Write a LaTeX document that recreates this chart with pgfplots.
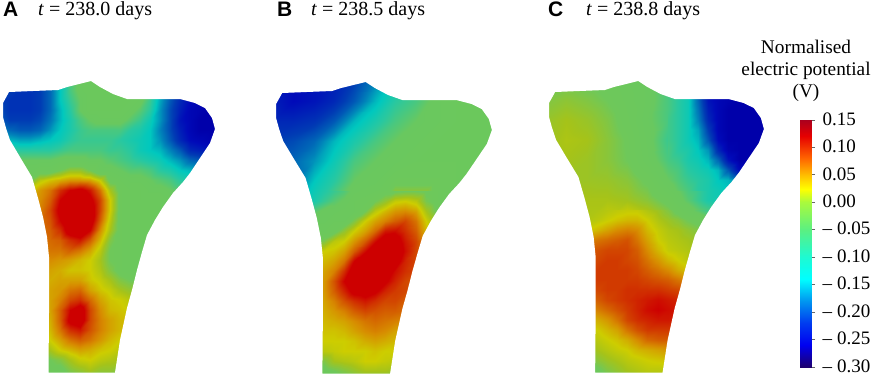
\documentclass[border=0pt]{standalone}
\usepackage{pgfplots}
\pgfplotsset{compat=1.18}
\usepackage{fontspec}
\setmainfont{Liberation Serif}
\newfontfamily\hv{Liberation Sans}
\pgfplotsset{
 colormap={field}{rgb255(0cm)=(0,0,170); rgb255(0.3cm)=(0,10,185); rgb255(0.8cm)=(0,60,180); rgb255(1.3cm)=(0,130,185); rgb255(1.7cm)=(0,200,190); rgb255(2cm)=(40,200,160); rgb255(2.4cm)=(105,200,95); rgb255(2.8cm)=(110,200,90); rgb255(3.1cm)=(165,195,25); rgb255(3.3cm)=(205,205,0); rgb255(3.6cm)=(215,140,0); rgb255(3.9cm)=(210,70,0); rgb255(4.2cm)=(205,0,0); rgb255(4.5cm)=(205,0,0)},
 colormap={bar}{rgb255(0cm)=(30,0,110); rgb255(0.4cm)=(0,0,240); rgb255(0.8cm)=(0,60,240); rgb255(1.2cm)=(0,150,240); rgb255(1.6cm)=(0,255,255); rgb255(2cm)=(30,250,210); rgb255(2.5cm)=(90,240,130); rgb255(3cm)=(170,250,60); rgb255(3.25cm)=(255,255,0); rgb255(3.5cm)=(255,190,0); rgb255(3.8cm)=(255,100,0); rgb255(4.2cm)=(230,0,0); rgb255(4.5cm)=(170,0,30)},
 panel/.style={hide axis, scale only axis, y dir=reverse, xmin=0,xmax=220,ymin=80,ymax=373, height=293pt, clip=false,
   colormap name=field, point meta min=-0.30, point meta max=0.15, anchor=north west},
 field/.style={surf, shader=interp, mesh/ordering=x varies, point meta=explicit},
 mask/.style={draw=none, fill=white, even odd rule, forget plot},
}
\newcommand{\outline}{
 (-5,70)(225,70)(225,385)(-5,385)(-5,70)
 (91,81)(100,87)(113,94)(127,99)(147,99)(165,99)(180,99)(195,103)(205,108)(212,118)(215,129)(210,143)(200,158)(190,173)(183,182)(173,193)(163,207)(155,220)(147,235)(142,252)(137,270)(132,290)(127,308)(120,340)(115,372.5)(48.5,372.5)(49,313)(49,280)(49,257)(47,237)(43,217)(38,198)(32,177)(20,157)(10,140)(6,128)(3,117)(3,103)(9,92)(33,91)(58,90)(67,87)(79,84)(91,81)(-5,70)}
\begin{document}
\begin{tikzpicture}[x=1pt,y=1pt]
\path[use as bounding box] (0,0) rectangle (872,375);
% Panel A
\begin{axis}[panel, at={(0pt,295pt)}, width=220pt]
\addplot[field, mesh/cols=23] table[row sep=\\, meta=c]{x y c\\
0 80 -.2\\10 80 -.21\\20 80 -.22\\30 80 -.22\\40 80 -.21\\50 80 -.18\\60 80 -.13\\70 80 -.08\\80 80 -.05\\90 80 -.04\\100 80 -.04\\110 80 -.04\\120 80 -.04\\130 80 -.04\\140 80 -.05\\150 80 -.08\\160 80 -.13\\170 80 -.18\\180 80 -.22\\190 80 -.25\\200 80 -.27\\210 80 -.28\\220 80 -.28\\
0 90 -.21\\10 90 -.22\\20 90 -.23\\30 90 -.23\\40 90 -.22\\50 90 -.19\\60 90 -.13\\70 90 -.08\\80 90 -.05\\90 90 -.04\\100 90 -.04\\110 90 -.04\\120 90 -.04\\130 90 -.04\\140 90 -.05\\150 90 -.08\\160 90 -.14\\170 90 -.19\\180 90 -.23\\190 90 -.26\\200 90 -.28\\210 90 -.29\\220 90 -.29\\
0 100 -.22\\10 100 -.23\\20 100 -.23\\30 100 -.23\\40 100 -.22\\50 100 -.19\\60 100 -.13\\70 100 -.09\\80 100 -.06\\90 100 -.04\\100 100 -.04\\110 100 -.04\\120 100 -.04\\130 100 -.04\\140 100 -.05\\150 100 -.09\\160 100 -.15\\170 100 -.2\\180 100 -.24\\190 100 -.27\\200 100 -.28\\210 100 -.29\\220 100 -.29\\
0 110 -.21\\10 110 -.23\\20 110 -.23\\30 110 -.23\\40 110 -.22\\50 110 -.19\\60 110 -.14\\70 110 -.1\\80 110 -.06\\90 110 -.04\\100 110 -.04\\110 110 -.04\\120 110 -.04\\130 110 -.05\\140 110 -.07\\150 110 -.1\\160 110 -.16\\170 110 -.21\\180 110 -.25\\190 110 -.28\\200 110 -.29\\210 110 -.3\\220 110 -.3\\
0 120 -.2\\10 120 -.22\\20 120 -.22\\30 120 -.22\\40 120 -.21\\50 120 -.18\\60 120 -.14\\70 120 -.11\\80 120 -.08\\90 120 -.06\\100 120 -.05\\110 120 -.05\\120 120 -.05\\130 120 -.07\\140 120 -.09\\150 120 -.12\\160 120 -.16\\170 120 -.21\\180 120 -.26\\190 120 -.28\\200 120 -.3\\210 120 -.3\\220 120 -.3\\
0 130 -.17\\10 130 -.19\\20 130 -.2\\30 130 -.2\\40 130 -.19\\50 130 -.16\\60 130 -.13\\70 130 -.11\\80 130 -.09\\90 130 -.08\\100 130 -.08\\110 130 -.08\\120 130 -.08\\130 130 -.1\\140 130 -.11\\150 130 -.13\\160 130 -.17\\170 130 -.21\\180 130 -.25\\190 130 -.28\\200 130 -.3\\210 130 -.3\\220 130 -.3\\
0 140 -.12\\10 140 -.14\\20 140 -.15\\30 140 -.15\\40 140 -.14\\50 140 -.13\\60 140 -.12\\70 140 -.1\\80 140 -.09\\90 140 -.09\\100 140 -.09\\110 140 -.09\\120 140 -.1\\130 140 -.11\\140 140 -.12\\150 140 -.13\\160 140 -.16\\170 140 -.2\\180 140 -.24\\190 140 -.27\\200 140 -.28\\210 140 -.29\\220 140 -.29\\
0 150 -.09\\10 150 -.09\\20 150 -.1\\30 150 -.1\\40 150 -.1\\50 150 -.1\\60 150 -.09\\70 150 -.08\\80 150 -.08\\90 150 -.08\\100 150 -.08\\110 150 -.09\\120 150 -.09\\130 150 -.1\\140 150 -.12\\150 150 -.13\\160 150 -.14\\170 150 -.17\\180 150 -.2\\190 150 -.24\\200 150 -.25\\210 150 -.26\\220 150 -.26\\
0 160 -.06\\10 160 -.06\\20 160 -.06\\30 160 -.06\\40 160 -.06\\50 160 -.06\\60 160 -.05\\70 160 -.05\\80 160 -.05\\90 160 -.06\\100 160 -.06\\110 160 -.07\\120 160 -.08\\130 160 -.09\\140 160 -.1\\150 160 -.11\\160 160 -.12\\170 160 -.14\\180 160 -.16\\190 160 -.19\\200 160 -.2\\210 160 -.22\\220 160 -.22\\
0 170 -.05\\10 170 -.05\\20 170 -.05\\30 170 -.05\\40 170 -.04\\50 170 -.04\\60 170 -.02\\70 170 0\\80 170 0\\90 170 -.02\\100 170 -.05\\110 170 -.05\\120 170 -.06\\130 170 -.07\\140 170 -.07\\150 170 -.08\\160 170 -.1\\170 170 -.11\\180 170 -.13\\190 170 -.14\\200 170 -.15\\210 170 -.16\\220 170 -.16\\
0 180 -.05\\10 180 -.05\\20 180 -.04\\30 180 -.02\\40 180 .02\\50 180 .035\\60 180 .045\\70 180 .055\\80 180 .055\\90 180 .05\\100 180 .025\\110 180 -.03\\120 180 -.04\\130 180 -.05\\140 180 -.05\\150 180 -.06\\160 180 -.07\\170 180 -.08\\180 180 -.1\\190 180 -.11\\200 180 -.12\\210 180 -.13\\220 180 -.13\\
0 190 -.04\\10 190 -.04\\20 190 -.03\\30 190 .03\\40 190 .055\\50 190 .07\\60 190 .1\\70 190 .12\\80 190 .13\\90 190 .11\\100 190 .07\\110 190 .01\\120 190 -.03\\130 190 -.04\\140 190 -.04\\150 190 -.05\\160 190 -.05\\170 190 -.06\\180 190 -.07\\190 190 -.08\\200 190 -.08\\210 190 -.08\\220 190 -.08\\
0 200 .03\\10 200 .03\\20 200 .03\\30 200 .05\\40 200 .06\\50 200 .08\\60 200 .12\\70 200 .15\\80 200 .15\\90 200 .13\\100 200 .09\\110 200 .03\\120 200 -.03\\130 200 -.04\\140 200 -.04\\150 200 -.04\\160 200 -.04\\170 200 -.05\\180 200 -.05\\190 200 -.05\\200 200 -.05\\210 200 -.05\\220 200 -.05\\
0 210 .05\\10 210 .05\\20 210 .05\\30 210 .055\\40 210 .065\\50 210 .09\\60 210 .13\\70 210 .15\\80 210 .15\\90 210 .14\\100 210 .09\\110 210 .03\\120 210 -.03\\130 210 -.04\\140 210 -.04\\150 210 -.04\\160 210 -.04\\170 210 -.04\\180 210 -.04\\190 210 -.04\\200 210 -.04\\210 210 -.04\\220 210 -.04\\
};
\addplot[field, mesh/cols=14] table[row sep=\\, meta=c]{x y c\\
40 210 .065\\50 210 .09\\60 210 .13\\70 210 .15\\80 210 .15\\90 210 .14\\100 210 .09\\110 210 .03\\120 210 -.03\\130 210 -.04\\140 210 -.04\\150 210 -.04\\160 210 -.04\\170 210 -.04\\
40 220 .07\\50 220 .085\\60 220 .12\\70 220 .15\\80 220 .15\\90 220 .14\\100 220 .08\\110 220 .02\\120 220 -.03\\130 220 -.04\\140 220 -.04\\150 220 -.04\\160 220 -.04\\170 220 -.04\\
40 230 .07\\50 230 .08\\60 230 .1\\70 230 .14\\80 230 .15\\90 230 .12\\100 230 .06\\110 230 .01\\120 230 -.03\\130 230 -.04\\140 230 -.04\\150 230 -.04\\160 230 -.04\\170 230 -.04\\
40 240 .07\\50 240 .075\\60 240 .08\\70 240 .1\\80 240 .11\\90 240 .08\\100 240 .04\\110 240 -.01\\120 240 -.03\\130 240 -.04\\140 240 -.04\\150 240 -.04\\160 240 -.04\\170 240 -.04\\
40 250 .065\\50 250 .07\\60 250 .07\\70 250 .08\\80 250 .07\\90 250 .05\\100 250 .02\\110 250 -.02\\120 250 -.03\\130 250 -.04\\140 250 -.04\\150 250 -.04\\160 250 -.04\\170 250 -.04\\
40 260 .06\\50 260 .06\\60 260 .055\\70 260 .05\\80 260 .04\\90 260 .03\\100 260 .01\\110 260 -.02\\120 260 -.03\\130 260 -.04\\140 260 -.04\\150 260 -.04\\160 260 -.04\\170 260 -.04\\
40 270 .055\\50 270 .05\\60 270 .045\\70 270 .035\\80 270 .035\\90 270 .03\\100 270 .015\\110 270 -.01\\120 270 -.03\\130 270 -.04\\140 270 -.04\\150 270 -.04\\160 270 -.04\\170 270 -.04\\
40 280 .05\\50 280 .045\\60 280 .05\\70 280 .05\\80 280 .05\\90 280 .035\\100 280 .025\\110 280 .01\\120 280 -.01\\130 280 -.02\\140 280 -.02\\150 280 -.02\\160 280 -.02\\170 280 -.02\\
40 290 .05\\50 290 .05\\60 290 .055\\70 290 .07\\80 290 .075\\90 290 .05\\100 290 .035\\110 290 .025\\120 290 .01\\130 290 0\\140 290 0\\150 290 0\\160 290 0\\170 290 0\\
40 300 .05\\50 300 .05\\60 300 .065\\70 300 .09\\80 300 .1\\90 300 .075\\100 300 .05\\110 300 .035\\120 300 .03\\130 300 .02\\140 300 .02\\150 300 .02\\160 300 .02\\170 300 .02\\
40 310 .045\\50 310 .05\\60 310 .08\\70 310 .12\\80 310 .14\\90 310 .09\\100 310 .06\\110 310 .04\\120 310 .035\\130 310 .03\\140 310 .03\\150 310 .03\\160 310 .03\\170 310 .03\\
40 320 .04\\50 320 .045\\60 320 .08\\70 320 .13\\80 320 .14\\90 320 .09\\100 320 .065\\110 320 .05\\120 320 .04\\130 320 .04\\140 320 .04\\150 320 .04\\160 320 .04\\170 320 .04\\
40 330 .03\\50 330 .04\\60 330 .07\\70 330 .1\\80 330 .11\\90 330 .085\\100 330 .065\\110 330 .05\\120 330 .04\\130 330 .04\\140 330 .04\\150 330 .04\\160 330 .04\\170 330 .04\\
40 340 .02\\50 340 .03\\60 340 .05\\70 340 .07\\80 340 .08\\90 340 .07\\100 340 .055\\110 340 .04\\120 340 .03\\130 340 .03\\140 340 .03\\150 340 .03\\160 340 .03\\170 340 .03\\
40 350 0\\50 350 .01\\60 350 .03\\70 350 .04\\80 350 .05\\90 350 .045\\100 350 .035\\110 350 .03\\120 350 .02\\130 350 .02\\140 350 .02\\150 350 .02\\160 350 .02\\170 350 .02\\
40 360 -.02\\50 360 -.02\\60 360 -.01\\70 360 .01\\80 360 .025\\90 360 .03\\100 360 .02\\110 360 .015\\120 360 .01\\130 360 .01\\140 360 .01\\150 360 .01\\160 360 .01\\170 360 .01\\
40 370 -.03\\50 370 -.03\\60 370 -.03\\70 370 -.01\\80 370 0\\90 370 .01\\100 370 0\\110 370 0\\120 370 -.01\\130 370 -.01\\140 370 -.01\\150 370 -.01\\160 370 -.01\\170 370 -.01\\
40 380 -.04\\50 380 -.04\\60 380 -.04\\70 380 -.03\\80 380 -.03\\90 380 -.02\\100 380 -.02\\110 380 -.02\\120 380 -.02\\130 380 -.02\\140 380 -.02\\150 380 -.02\\160 380 -.02\\170 380 -.02\\
};
\addplot[mask] coordinates {\outline};
\end{axis}
% Panel B
\begin{axis}[panel, at={(273pt,294pt)}, width=224pt]
\addplot[field, mesh/cols=12] table[row sep=\\, meta=c]{x y c\\
0 80 -.25\\20 80 -.27\\40 80 -.26\\60 80 -.25\\80 80 -.22\\100 80 -.17\\120 80 -.12\\140 80 -.09\\160 80 -.06\\180 80 -.05\\200 80 -.04\\220 80 -.04\\
0 100 -.25\\20 100 -.27\\40 100 -.26\\60 100 -.24\\80 100 -.2\\100 100 -.14\\120 100 -.1\\140 100 -.08\\160 100 -.05\\180 100 -.04\\200 100 -.04\\220 100 -.04\\
0 120 -.24\\20 120 -.24\\40 120 -.23\\60 120 -.2\\80 120 -.14\\100 120 -.11\\120 120 -.08\\140 120 -.06\\160 120 -.05\\180 120 -.04\\200 120 -.04\\220 120 -.04\\
0 140 -.22\\20 140 -.21\\40 140 -.19\\60 140 -.14\\80 140 -.11\\100 140 -.08\\120 140 -.06\\140 140 -.05\\160 140 -.04\\180 140 -.04\\200 140 -.04\\220 140 -.04\\
0 160 -.2\\20 160 -.19\\40 160 -.16\\60 160 -.12\\80 160 -.08\\100 160 -.06\\120 160 -.05\\140 160 -.04\\160 160 -.04\\180 160 -.04\\200 160 -.04\\220 160 -.04\\
0 180 -.19\\20 180 -.19\\40 180 -.13\\60 180 -.1\\80 180 -.06\\100 180 -.05\\120 180 -.03\\140 180 -.03\\160 180 -.03\\180 180 -.04\\200 180 -.04\\220 180 -.04\\
0 200 -.15\\20 200 -.15\\40 200 -.11\\60 200 -.07\\80 200 -.04\\100 200 -.035\\120 200 .02\\140 200 .02\\160 200 -.03\\180 200 -.04\\200 200 -.04\\220 200 -.04\\
0 220 -.05\\20 220 -.05\\40 220 -.05\\60 220 -.04\\80 220 -.01\\100 220 .05\\120 220 .08\\140 220 .07\\160 220 0\\180 220 -.01\\200 220 -.01\\220 220 -.01\\
};
\addplot[field, mesh/cols=14] table[row sep=\\, meta=c]{x y c\\
40 190 -.12\\50 190 -.105\\60 190 -.09\\70 190 -.075\\80 190 -.05\\90 190 -.045\\100 190 -.04\\110 190 -.03\\120 190 -.025\\130 190 -.02\\140 190 -.02\\150 190 -.025\\160 190 -.03\\170 190 -.04\\
40 200 -.11\\50 200 -.09\\60 200 -.07\\70 200 -.055\\80 200 -.04\\90 200 -.035\\100 200 -.02\\110 200 0\\120 200 .025\\130 200 .03\\140 200 .02\\150 200 -.015\\160 200 -.03\\170 200 -.04\\
40 210 -.07\\50 210 -.05\\60 210 -.05\\70 210 -.045\\80 210 -.04\\90 210 -.02\\100 210 .02\\110 210 .04\\120 210 .055\\130 210 .06\\140 210 .05\\150 210 .01\\160 210 -.02\\170 210 -.04\\
40 220 -.05\\50 220 -.05\\60 220 -.04\\70 220 -.04\\80 220 -.01\\90 220 .03\\100 220 .05\\110 220 .065\\120 220 .08\\130 220 .09\\140 220 .07\\150 220 .03\\160 220 0\\170 220 -.02\\
40 230 -.04\\50 230 -.04\\60 230 -.03\\70 230 0\\80 230 .03\\90 230 .05\\100 230 .075\\110 230 .11\\120 230 .115\\130 230 .1\\140 230 .08\\150 230 .04\\160 230 .02\\170 230 0\\
40 240 -.03\\50 240 -.01\\60 240 .02\\70 240 .03\\80 240 .055\\90 240 .08\\100 240 .115\\110 240 .14\\120 240 .135\\130 240 .11\\140 240 .09\\150 240 .06\\160 240 .03\\170 240 .02\\
40 250 .02\\50 250 .03\\60 250 .035\\70 250 .05\\80 250 .08\\90 250 .115\\100 250 .15\\110 250 .15\\120 250 .145\\130 250 .115\\140 250 .09\\150 250 .07\\160 250 .05\\170 250 .04\\
40 260 .035\\50 260 .04\\60 260 .05\\70 260 .07\\80 260 .12\\90 260 .15\\100 260 .15\\110 260 .15\\120 260 .135\\130 260 .105\\140 260 .09\\150 260 .08\\160 260 .06\\170 260 .05\\
40 270 .04\\50 270 .05\\60 270 .065\\70 270 .1\\80 270 .14\\90 270 .15\\100 270 .15\\110 270 .14\\120 270 .115\\130 270 .1\\140 270 .09\\150 270 .08\\160 270 .06\\170 270 .05\\
40 280 .045\\50 280 .055\\60 280 .085\\70 280 .12\\80 280 .145\\90 280 .15\\100 280 .14\\110 280 .125\\120 280 .105\\130 280 .09\\140 280 .08\\150 280 .07\\160 280 .06\\170 280 .05\\
40 290 .045\\50 290 .055\\60 290 .08\\70 290 .105\\80 290 .13\\90 290 .135\\100 290 .125\\110 290 .105\\120 290 .095\\130 290 .09\\140 290 .08\\150 290 .07\\160 290 .06\\170 290 .05\\
40 300 .04\\50 300 .05\\60 300 .065\\70 300 .085\\80 300 .1\\90 300 .11\\100 300 .1\\110 300 .09\\120 300 .09\\130 300 .08\\140 300 .07\\150 300 .06\\160 300 .06\\170 300 .06\\
40 310 .04\\50 310 .045\\60 310 .055\\70 310 .065\\80 310 .08\\90 310 .09\\100 310 .085\\110 310 .08\\120 310 .08\\130 310 .075\\140 310 .06\\150 310 .06\\160 310 .06\\170 310 .06\\
40 320 .035\\50 320 .04\\60 320 .045\\70 320 .05\\80 320 .06\\90 320 .07\\100 320 .075\\110 320 .07\\120 320 .065\\130 320 .06\\140 320 .05\\150 320 .05\\160 320 .05\\170 320 .05\\
40 330 .03\\50 330 .035\\60 330 .035\\70 330 .04\\80 330 .05\\90 330 .06\\100 330 .065\\110 330 .06\\120 330 .05\\130 330 .045\\140 330 .045\\150 330 .045\\160 330 .045\\170 330 .045\\
40 340 .02\\50 340 .03\\60 340 .03\\70 340 .03\\80 340 .035\\90 340 .045\\100 340 .05\\110 340 .045\\120 340 .04\\130 340 .035\\140 340 .035\\150 340 .035\\160 340 .035\\170 340 .035\\
40 350 .01\\50 350 .02\\60 350 .025\\70 350 .03\\80 350 .03\\90 350 .03\\100 350 .035\\110 350 .03\\120 350 .03\\130 350 .03\\140 350 .03\\150 350 .03\\160 350 .03\\170 350 .03\\
40 360 -.01\\50 360 -.01\\60 360 .01\\70 360 .015\\80 360 .02\\90 360 .03\\100 360 .03\\110 360 .025\\120 360 .02\\130 360 .02\\140 360 .02\\150 360 .02\\160 360 .02\\170 360 .02\\
40 370 -.03\\50 370 -.03\\60 370 -.02\\70 370 -.01\\80 370 0\\90 370 .01\\100 370 .01\\110 370 .01\\120 370 0\\130 370 0\\140 370 0\\150 370 0\\160 370 0\\170 370 0\\
40 380 -.04\\50 380 -.04\\60 380 -.03\\70 380 -.03\\80 380 -.02\\90 380 -.02\\100 380 -.02\\110 380 -.02\\120 380 -.01\\130 380 -.01\\140 380 -.01\\150 380 -.01\\160 380 -.01\\170 380 -.01\\
};
\addplot[mask] coordinates {\outline};
\end{axis}
% Panel C
\begin{axis}[panel, at={(546pt,295pt)}, width=223pt]
\addplot[field, mesh/cols=12] table[row sep=\\, meta=c]{x y c\\
0 80 -.02\\20 80 -.02\\40 80 -.025\\60 80 -.03\\80 80 -.04\\100 80 -.05\\120 80 -.08\\140 80 -.11\\160 80 -.22\\180 80 -.27\\200 80 -.29\\220 80 -.3\\
0 100 -.01\\20 100 -.003\\40 100 -.01\\60 100 -.02\\80 100 -.035\\100 100 -.05\\120 100 -.08\\140 100 -.11\\160 100 -.22\\180 100 -.27\\200 100 -.29\\220 100 -.3\\
0 120 .002\\20 120 .01\\40 120 .003\\60 120 -.01\\80 120 -.03\\100 120 -.055\\120 120 -.08\\140 120 -.11\\160 120 -.22\\180 120 -.28\\200 120 -.3\\220 120 -.3\\
0 140 .005\\20 140 .014\\40 140 .01\\60 140 -.005\\80 140 -.022\\100 140 -.05\\120 140 -.09\\140 140 -.11\\160 140 -.2\\180 140 -.29\\200 140 -.3\\220 140 -.3\\
0 160 .005\\20 160 .01\\40 160 .005\\60 160 -.005\\80 160 -.02\\100 160 -.045\\120 160 -.08\\140 160 -.1\\160 160 -.13\\180 160 -.27\\200 160 -.3\\220 160 -.3\\
0 180 .005\\20 180 .005\\40 180 .005\\60 180 .003\\80 180 -.005\\100 180 -.025\\120 180 -.06\\140 180 -.09\\160 180 -.11\\180 180 -.13\\200 180 -.2\\220 180 -.25\\
0 200 .012\\20 200 .012\\40 200 .012\\60 200 .012\\80 200 .008\\100 200 -.005\\120 200 -.03\\140 200 -.07\\160 200 -.11\\180 200 -.12\\200 200 -.13\\220 200 -.13\\
0 220 .015\\20 220 .015\\40 220 .015\\60 220 .028\\80 220 .04\\100 220 .03\\120 220 .005\\140 220 -.02\\160 220 -.05\\180 220 -.09\\200 220 -.09\\220 220 -.09\\
};
\addplot[field, mesh/cols=11] table[row sep=\\, meta=c]{x y c\\
120 90 -.08\\130 90 -.1\\140 90 -.12\\150 90 -.19\\160 90 -.25\\170 90 -.28\\180 90 -.29\\190 90 -.3\\200 90 -.3\\210 90 -.3\\220 90 -.3\\
120 100 -.08\\130 100 -.1\\140 100 -.12\\150 100 -.19\\160 100 -.26\\170 100 -.28\\180 100 -.29\\190 100 -.3\\200 100 -.3\\210 100 -.3\\220 100 -.3\\
120 110 -.08\\130 110 -.1\\140 110 -.12\\150 110 -.18\\160 110 -.25\\170 110 -.28\\180 110 -.3\\190 110 -.3\\200 110 -.3\\210 110 -.3\\220 110 -.3\\
120 120 -.085\\130 120 -.1\\140 120 -.12\\150 120 -.17\\160 120 -.24\\170 120 -.28\\180 120 -.3\\190 120 -.3\\200 120 -.3\\210 120 -.3\\220 120 -.3\\
120 130 -.085\\130 130 -.1\\140 130 -.12\\150 130 -.15\\160 130 -.22\\170 130 -.28\\180 130 -.3\\190 130 -.3\\200 130 -.3\\210 130 -.3\\220 130 -.3\\
120 140 -.085\\130 140 -.1\\140 140 -.12\\150 140 -.14\\160 140 -.2\\170 140 -.27\\180 140 -.3\\190 140 -.3\\200 140 -.3\\210 140 -.3\\220 140 -.3\\
120 150 -.08\\130 150 -.1\\140 150 -.11\\150 150 -.13\\160 150 -.16\\170 150 -.24\\180 150 -.29\\190 150 -.3\\200 150 -.3\\210 150 -.3\\220 150 -.3\\
120 160 -.08\\130 160 -.09\\140 160 -.11\\150 160 -.12\\160 160 -.14\\170 160 -.19\\180 160 -.26\\190 160 -.3\\200 160 -.3\\210 160 -.3\\220 160 -.3\\
120 170 -.07\\130 170 -.08\\140 170 -.1\\150 170 -.11\\160 170 -.12\\170 170 -.14\\180 170 -.2\\190 170 -.27\\200 170 -.3\\210 170 -.3\\220 170 -.3\\
120 180 -.06\\130 180 -.075\\140 180 -.09\\150 180 -.1\\160 180 -.11\\170 180 -.13\\180 180 -.14\\190 180 -.17\\200 180 -.24\\210 180 -.28\\220 180 -.3\\
120 190 -.045\\130 190 -.065\\140 190 -.08\\150 190 -.1\\160 190 -.11\\170 190 -.12\\180 190 -.13\\190 190 -.14\\200 190 -.17\\210 190 -.2\\220 190 -.24\\
};
\addplot[field, mesh/cols=14] table[row sep=\\, meta=c]{x y c\\
40 210 .012\\50 210 .014\\60 210 .018\\70 210 .022\\80 210 .025\\90 210 .025\\100 210 .015\\110 210 .005\\120 210 -.01\\130 210 -.03\\140 210 -.05\\150 210 -.07\\160 210 -.09\\170 210 -.1\\
40 220 .015\\50 220 .02\\60 220 .028\\70 220 .035\\80 220 .04\\90 220 .04\\100 220 .03\\110 220 .015\\120 220 .005\\130 220 -.005\\140 220 -.02\\150 220 -.03\\160 220 -.05\\170 220 -.07\\
40 230 .03\\50 230 .04\\60 230 .05\\70 230 .06\\80 230 .065\\90 230 .06\\100 230 .04\\110 230 .025\\120 230 .015\\130 230 .01\\140 230 0\\150 230 -.01\\160 230 -.03\\170 230 -.05\\
40 240 .06\\50 240 .07\\60 240 .075\\70 240 .08\\80 240 .085\\90 240 .07\\100 240 .05\\110 240 .03\\120 240 .02\\130 240 .015\\140 240 .01\\150 240 0\\160 240 -.01\\170 240 -.03\\
40 250 .08\\50 250 .085\\60 250 .09\\70 250 .09\\80 250 .09\\90 250 .08\\100 250 .06\\110 250 .04\\120 250 .025\\130 250 .02\\140 250 .015\\150 250 .01\\160 250 0\\170 250 -.01\\
40 260 .085\\50 260 .09\\60 260 .095\\70 260 .095\\80 260 .09\\90 260 .085\\100 260 .07\\110 260 .055\\120 260 .04\\130 260 .03\\140 260 .02\\150 260 .015\\160 260 .01\\170 260 0\\
40 270 .09\\50 270 .095\\60 270 .095\\70 270 .095\\80 270 .095\\90 270 .09\\100 270 .08\\110 270 .07\\120 270 .06\\130 270 .045\\140 270 .035\\150 270 .03\\160 270 .02\\170 270 .01\\
40 280 .09\\50 280 .095\\60 280 .095\\70 280 .095\\80 280 .095\\90 280 .095\\100 280 .09\\110 280 .085\\120 280 .08\\130 280 .07\\140 280 .06\\150 280 .05\\160 280 .04\\170 280 .03\\
40 290 .085\\50 290 .09\\60 290 .095\\70 290 .095\\80 290 .1\\90 290 .1\\100 290 .1\\110 290 .1\\120 290 .095\\130 290 .09\\140 290 .085\\150 290 .07\\160 290 .05\\170 290 .04\\
40 300 .075\\50 300 .08\\60 300 .09\\70 300 .095\\80 300 .1\\90 300 .105\\100 300 .11\\110 300 .115\\120 300 .11\\130 300 .105\\140 300 .1\\150 300 .09\\160 300 .07\\170 300 .05\\
40 310 .055\\50 310 .065\\60 310 .075\\70 310 .085\\80 310 .095\\90 310 .105\\100 310 .115\\110 310 .12\\120 310 .115\\130 310 .11\\140 310 .105\\150 310 .09\\160 310 .07\\170 310 .05\\
40 320 .04\\50 320 .045\\60 320 .055\\70 320 .07\\80 320 .09\\90 320 .1\\100 320 .105\\110 320 .11\\120 320 .11\\130 320 .105\\140 320 .1\\150 320 .09\\160 320 .07\\170 320 .05\\
40 330 .03\\50 330 .03\\60 330 .04\\70 330 .05\\80 330 .07\\90 330 .085\\100 330 .095\\110 330 .095\\120 330 .095\\130 330 .09\\140 330 .085\\150 330 .08\\160 330 .07\\170 330 .05\\
40 340 .015\\50 340 .02\\60 340 .028\\70 340 .035\\80 340 .045\\90 340 .06\\100 340 .075\\110 340 .08\\120 340 .08\\130 340 .075\\140 340 .07\\150 340 .06\\160 340 .06\\170 340 .06\\
40 350 0\\50 350 .01\\60 350 .018\\70 350 .025\\80 350 .03\\90 350 .04\\100 350 .045\\110 350 .05\\120 350 .055\\130 350 .055\\140 350 .05\\150 350 .05\\160 350 .05\\170 350 .05\\
40 360 -.02\\50 360 -.005\\60 360 .005\\70 360 .012\\80 360 .02\\90 360 .025\\100 360 .03\\110 360 .033\\120 360 .035\\130 360 .035\\140 360 .035\\150 360 .03\\160 360 .03\\170 360 .03\\
40 370 -.04\\50 370 -.025\\60 370 -.01\\70 370 0\\80 370 .01\\90 370 .015\\100 370 .02\\110 370 .02\\120 370 .02\\130 370 .02\\140 370 .02\\150 370 .02\\160 370 .02\\170 370 .02\\
40 380 -.05\\50 380 -.04\\60 380 -.03\\70 380 -.02\\80 380 -.01\\90 380 0\\100 380 0\\110 380 .01\\120 380 .01\\130 380 .01\\140 380 .01\\150 380 .01\\160 380 .01\\170 380 .01\\
};
\addplot[mask] coordinates {\outline};
\end{axis}
% Colour bar
\begin{axis}[at={(800pt,8pt)}, anchor=south west, scale only axis, width=11pt, height=247pt,
  xmin=0,xmax=1,ymin=-0.30,ymax=0.15, colormap name=bar, point meta min=-0.30, point meta max=0.15,
  axis line style={draw=none}, xtick=\empty, ytick pos=right, tick align=center,
  ytick={-0.30,-0.25,-0.20,-0.15,-0.10,-0.05,0,0.05,0.10,0.15},
  yticklabels={–\hspace{5pt}0.30,–\hspace{5pt}0.25,–\hspace{5pt}0.20,–\hspace{5pt}0.15,–\hspace{5pt}0.10,–\hspace{5pt}0.05,0.00,0.05,0.10,0.15},
  major tick length=8pt, tick style={black!60, line width=0.8pt},
  yticklabel style={font=\fontsize{19}{19}\selectfont, xshift=4pt, yshift=1pt, inner ysep=0pt}]
\addplot[surf, shader=interp, mesh/cols=2, mesh/ordering=x varies, point meta=explicit] table[row sep=\\, meta=c]{x y c\\
0 -.3 -.3\\1 -.3 -.3\\0 -.26 -.26\\1 -.26 -.26\\0 -.22 -.22\\1 -.22 -.22\\0 -.18 -.18\\1 -.18 -.18\\0 -.14 -.14\\1 -.14 -.14\\0 -.1 -.1\\1 -.1 -.1\\0 -.05 -.05\\1 -.05 -.05\\0 0 0\\1 0 0\\0 .025 .025\\1 .025 .025\\0 .05 .05\\1 .05 .05\\0 .08 .08\\1 .08 .08\\0 .12 .12\\1 .12 .12\\0 .15 .15\\1 .15 .15\\
};
\end{axis}
% Text
\def\ttl{\fontsize{20}{24}\selectfont}
\def\pl{\hv\bfseries\fontsize{21}{24}\selectfont}
\node[anchor=base west,inner sep=0pt] at (3,358.5) {\pl A};
\node[anchor=base west,inner sep=0pt] at (277,358.5) {\pl B};
\node[anchor=base west,inner sep=0pt] at (548,358.5) {\pl C};
\node[anchor=base west,inner sep=0pt] at (38,359) {\ttl\textit{t} = 238.0 days};
\node[anchor=base west,inner sep=0pt] at (311,359) {\ttl\textit{t} = 238.5 days};
\node[anchor=base west,inner sep=0pt] at (586,359) {\ttl\textit{t} = 238.8 days};
\def\cb{\fontsize{19.3}{23}\selectfont}
\node[anchor=base,inner sep=0pt] at (806,321) {\cb Normalised};
\node[anchor=base,inner sep=0pt] at (806,299) {\cb electric potential};
\node[anchor=base,inner sep=0pt] at (806,277) {\cb (V)};
\end{tikzpicture}
\end{document}
